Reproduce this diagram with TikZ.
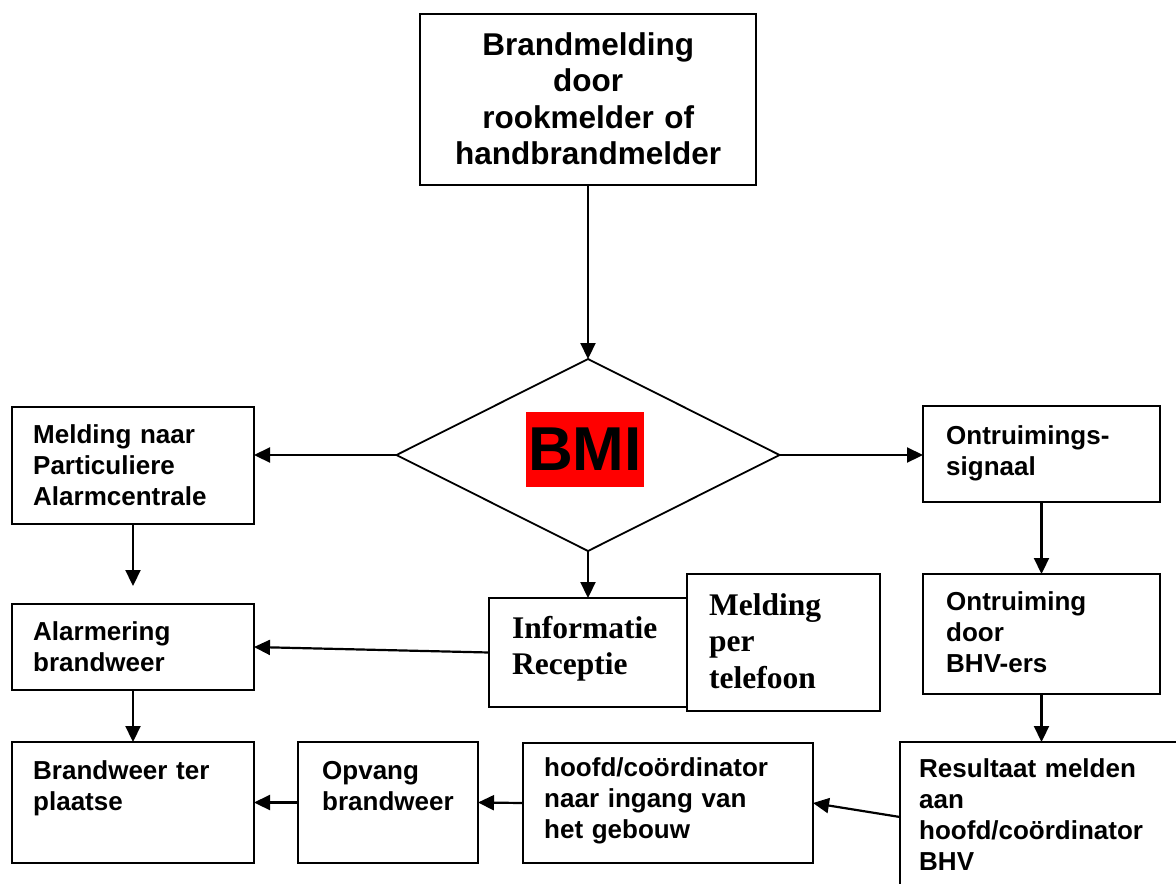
\documentclass[tikz,border=0pt]{standalone}
\usepackage{fontspec}
\setmainfont{Liberation Sans}
\newfontfamily\timesb{Liberation Serif}
\usetikzlibrary{arrows.meta,shapes.geometric}
\begin{document}
\begin{tikzpicture}[x=1pt,y=-1pt,
  box/.style={draw, line width=2.2pt, inner sep=0pt, outer sep=0pt, anchor=north west, fill=white},
  txt/.style={anchor=base west, inner sep=0pt, align=left, text width=#1,
    font=\fontsize{26}{31}\selectfont\bfseries},
  txt/.default=250,
  serif/.style={font=\timesb\fontsize{31.5}{36.5}\selectfont\bfseries},
  arr/.style={line width=2.2pt, -{Triangle[length=16pt,width=15pt]}},
]
\useasboundingbox (0,0) rectangle (1176,884);
\clip (0,0) rectangle (1176,884);

% boxes
\node[box, minimum width=336, minimum height=171] (top) at (420,14) {};
\node[draw, shape=diamond, line width=1.8pt, inner sep=0pt, outer sep=0pt,
      minimum width=383, minimum height=192] (bmi) at (588,455) {};
\node[fill=red, minimum width=118, minimum height=75, inner sep=0pt,
      font=\fontsize{62}{62}\selectfont\bfseries] (bmitext) at (585,449.5) {BMI};

\node[box, minimum width=242, minimum height=117] (mel) at (12,407) {};
\node[box, minimum width=242, minimum height=86] (alarm) at (12,604) {};
\node[box, minimum width=242, minimum height=121] (bw) at (12,742) {};
\node[box, minimum width=180, minimum height=121] (opvang) at (298,742) {};
\node[box, minimum width=290, minimum height=120] (hoofd) at (523,743) {};
\node[box, minimum width=300, minimum height=150] (res) at (900,742) {};
\node[box, minimum width=237, minimum height=96] (ontr) at (923,406) {};
\node[box, minimum width=237, minimum height=120] (ontr2) at (923,574) {};
\node[box, minimum width=211, minimum height=109] (info) at (489,598) {};
\node[box, minimum width=193, minimum height=137] (tel) at (687,574) {};

% texts
\node[txt=336, align=center, font=\fontsize{31.5}{36.5}\selectfont\bfseries] (toptext) at (420,55)
  {Brandmelding\\door\\rookmelder of\\handbrandmelder};
\node[txt] (meltext) at (33,443) {Melding naar\\Particuliere\\Alarmcentrale};
\node[txt] (alarmtext) at (33,640) {Alarmering\\brandweer};
\node[txt] (bwtext) at (33,779) {Brandweer ter\\plaatse};
\node[txt=150] (opvangtext) at (322,779) {Opvang\\brandweer};
\node[txt=265] (hoofdtext) at (544,776) {hoofd/co\"ordinator\\naar ingang van\\het gebouw};
\node[txt=257] (restext) at (919,777) {Resultaat melden\\aan\\hoofd/co\"ordinator\\BHV};
\node[txt=210] (ontrtext) at (946,444) {Ontruimings-\\signaal};
\node[txt=210] (ontr2text) at (946,610) {Ontruiming\\door\\BHV-ers};
\node[txt=180, serif] (infotext) at (512,638) {Informatie\\Receptie};
\node[txt=170, serif] (teltext) at (709,615) {Melding\\per\\telefoon};

% connectors
\coordinate (melend) at (133,586);
\draw[arr] (top.south) -- (bmi.north);
\draw[arr] (bmi.west) -- (bmi.west -| mel.east);
\draw[arr] (bmi.east) -- (bmi.east -| ontr.west);
\draw[arr] (mel.south) -- (melend);
\draw[arr] (alarm.south) -- (bw.north);
\draw[arr] (info.west) -- (alarm.east);
\draw[arr] (bmi.south) -- (bmi.south |- info.north);
\draw[arr] (ontr.south) -- (ontr2.north);
\draw[arr] (ontr2.south) -- (ontr2.south |- res.north);
\draw[arr] (res.west) -- (hoofd.east);
\draw[arr] (hoofd.west) -- (opvang.east);
\draw[arr] (opvang.west) -- (bw.east);
\end{tikzpicture}
\end{document}
